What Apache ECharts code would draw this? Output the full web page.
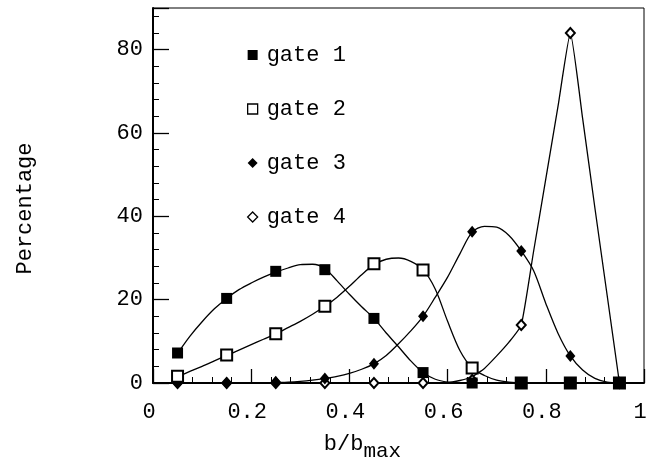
<!DOCTYPE html>
<html>
<head>
<meta charset="utf-8">
<script src="https://cdn.jsdelivr.net/npm/echarts@6/dist/echarts.min.js"></script>
<style>
html,body{margin:0;padding:0;background:#fff;}
#chart{width:648px;height:463px;}
</style>
</head>
<body>
<div id="chart"></div>
<script>
// b/b_max bin centres (measured points)
var xValues = [0.05, 0.15, 0.25, 0.35, 0.45, 0.55, 0.65, 0.75, 0.85, 0.95];
// Percentage per gate (markers)
var gate1 = [7.2, 20.3, 26.8, 27.2, 15.5, 2.5, 0, 0, 0, 0];
var gate2 = [1.6, 6.7, 11.8, 18.4, 28.6, 27.1, 3.6, 0, 0, 0];
var gate3 = [0, 0, 0.3, 1.1, 4.6, 16.0, 36.3, 31.7, 6.5, 0];
var gate4 = [0, 0, 0, 0, 0, 0, 0.7, 13.9, 84.0, 0];

// Drawn fit curves at b/b_max steps of 0.025 (0.05 .. 0.95)
var fitX  = [0.05, 0.075, 0.1, 0.125, 0.15, 0.175, 0.2, 0.225, 0.25, 0.275, 0.3, 0.325, 0.35, 0.375, 0.4, 0.425, 0.45, 0.475, 0.5, 0.525, 0.55, 0.575, 0.6, 0.625, 0.65, 0.675, 0.7, 0.725, 0.75, 0.775, 0.8, 0.825, 0.85, 0.875, 0.9, 0.925, 0.95];
var fit1  = [7.1, 11.2, 14.7, 17.8, 20.3, 22.4, 24.0, 25.4, 26.6, 27.6, 28.4, 28.5, 27.5, 24.5, 21.3, 18.3, 15.5, 12.0, 8.7, 5.3, 2.5, 0.9, 0.2, 0, 0, 0, 0, 0, 0, 0, 0, 0, 0, 0, 0, 0, 0];
var fit2  = [1.5, 2.8, 4.0, 5.3, 6.6, 7.9, 9.2, 10.5, 11.8, 13.3, 14.8, 16.5, 18.4, 20.6, 23.2, 26.0, 28.4, 29.7, 30.0, 29.2, 27.2, 22.5, 14.8, 7.8, 3.6, 1.8, 0.7, 0.2, 0, 0, 0, 0, 0, 0, 0, 0, 0];
var fit3  = [0, 0, 0, 0, 0, 0, 0, 0, 0.1, 0.2, 0.4, 0.7, 1.1, 1.6, 2.3, 3.3, 4.6, 6.6, 9.4, 12.5, 16.0, 20.6, 25.4, 31.0, 36.2, 37.6, 37.4, 35.4, 31.7, 27.0, 19.1, 11.9, 6.5, 3.1, 1.1, 0.2, 0];
var fit4  = [0, 0, 0, 0, 0, 0, 0, 0, 0, 0, 0, 0, 0, 0, 0, 0, 0, 0, 0, 0, 0, 0, 0.1, 0.6, 1.5, 3.5, 6.5, 9.8, 13.9, 31.5, 49.0, 66.5, 84.0, 63.5, 42.0, 21.0, 0];

var seriesNames = ['gate 1', 'gate 2', 'gate 3', 'gate 4'];
var xTickLabels = ['0', '0.2', '0.4', '0.6', '0.8', '1'];
var yTickLabels = ['0', '20', '40', '60', '80'];

function pairs(xs, ys) { return xs.map(function (x, i) { return [x, ys[i]]; }); }

var FONT = 'Liberation Mono';
var chart = echarts.init(document.getElementById('chart'), null, {renderer: 'canvas'});

var lineStyle = {color: '#000', width: 1.3};
function fitSeries(name, ys, smooth) {
  return {name: name + ' fit', type: 'line', data: pairs(fitX, ys), smooth: smooth, showSymbol: false,
    symbol: 'none', lineStyle: lineStyle, z: 1, silent: true};
}

chart.setOption({
  animation: false,
  backgroundColor: '#fff',
  grid: {left: 153, right: 4, top: 8, bottom: 80, show: true, borderColor: '#000', borderWidth: 1,
    containLabel: false, outerBoundsMode: 'none'},
  legend: {
    orient: 'vertical', left: 242, top: 38, itemWidth: 10, itemHeight: 10, itemGap: 30,
    textStyle: {fontFamily: FONT, fontSize: 22, color: '#000', lineHeight: 24, padding: [0, 0, 0, 4]},
    data: [
      {name: seriesNames[0], icon: 'rect', itemStyle: {color: '#000', borderWidth: 0, opacity: 1}},
      {name: seriesNames[1], icon: 'rect', itemStyle: {color: '#fff', borderColor: '#000', borderWidth: 1.3, opacity: 1}},
      {name: seriesNames[2], icon: 'diamond', itemStyle: {color: '#000', borderWidth: 0, opacity: 1}},
      {name: seriesNames[3], icon: 'diamond', itemStyle: {color: '#fff', borderColor: '#000', borderWidth: 1.3, opacity: 1}}
    ]
  },
  xAxis: {
    type: 'value', min: 0, max: 1, interval: 0.2,
    name: 'b/b{sub|max}', nameLocation: 'middle', nameGap: 44,
    nameTextStyle: {fontFamily: FONT, fontSize: 22, color: '#000', padding: [0, 72, 0, 0],
      rich: {sub: {fontFamily: FONT, fontSize: 21, color: '#000', verticalAlign: 'bottom', padding: [14, 0, 0, 0]}}},
    axisLine: {show: true, lineStyle: {color: '#000', width: 2}},
    axisTick: {show: true, inside: true, length: 14, lineStyle: {color: '#000', width: 1.3}},
    minorTick: {show: true, splitNumber: 5, length: 6, lineStyle: {color: '#000', width: 1}},
    splitLine: {show: false},
    axisLabel: {
      fontFamily: FONT, fontSize: 22, color: '#000', margin: 18, padding: [0, 8, 0, 0],
      formatter: function (v) { return xTickLabels[Math.round(v / 0.2)]; }
    }
  },
  yAxis: {
    type: 'value', min: 0, max: 90, interval: 20,
    name: 'Percentage', nameLocation: 'middle', nameGap: 117, nameRotate: 90,
    nameTextStyle: {fontFamily: FONT, fontSize: 22, color: '#000', padding: [0, 26, 0, 0]},
    axisLine: {show: true, lineStyle: {color: '#000', width: 2}},
    axisTick: {show: true, inside: true, length: 16, lineStyle: {color: '#000', width: 1.3}},
    minorTick: {show: true, splitNumber: 5, length: 6, lineStyle: {color: '#000', width: 1}},
    splitLine: {show: false},
    axisLabel: {
      fontFamily: FONT, fontSize: 22, color: '#000', margin: 10, showMaxLabel: false, padding: [10, 0, 0, 0],
      formatter: function (v) { var i = Math.round(v / 20); return (v % 20 === 0 && i < yTickLabels.length) ? yTickLabels[i] : ''; }
    }
  },
  series: [
    fitSeries(seriesNames[3], fit4, 0.15),
    fitSeries(seriesNames[2], fit3, 0.3),
    fitSeries(seriesNames[1], fit2, 0.3),
    fitSeries(seriesNames[0], fit1, 0.3),
    {name: seriesNames[3], type: 'scatter', data: pairs(xValues, gate4), z: 2,
      symbol: 'emptyDiamond', symbolSize: [9, 10],
      itemStyle: {color: '#000', borderWidth: 1.3, opacity: 1}},
    {name: seriesNames[2], type: 'scatter', data: pairs(xValues, gate3), z: 3,
      symbol: 'diamond', symbolSize: [10, 12],
      itemStyle: {color: '#000', opacity: 1}},
    {name: seriesNames[1], type: 'scatter', data: pairs(xValues, gate2), z: 4,
      symbol: 'emptyRect', symbolSize: 11,
      itemStyle: {color: '#000', borderWidth: 1.5, opacity: 1}},
    {name: seriesNames[0], type: 'scatter', data: pairs(xValues, gate1), z: 5,
      symbol: 'rect', symbolSize: 11,
      itemStyle: {color: '#000', opacity: 1}}
  ]
});
</script>
</body>
</html>
